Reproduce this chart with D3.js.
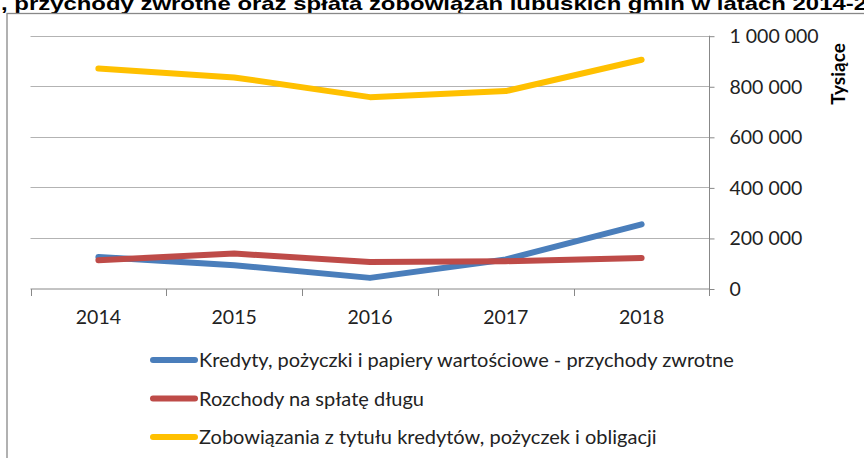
<html>
  <head>
    <meta charset="utf-8" />
    <script src="https://d3js.org/d3.v7.min.js"></script>
    <style>
      body { margin: 0; background: #fff; }
      text { font-family: Lato, "Open Sans", sans-serif; fill: #222; }
    </style>
  </head>
  <body>
    <div id="chart"></div>
    <script>
      // values, in thousands (Tysiące)
      var years = ["2014", "2015", "2016", "2017", "2018"];
      var kredyty = [125000, 92000, 42000, 115000, 254000];
      var rozchody = [112000, 138000, 105000, 108000, 121000];
      var zobowiazania = [870000, 835000, 757000, 781000, 905000];
      var yTicks = [0, 200000, 400000, 600000, 800000, 1000000];

      var seriesNames = [
        "Kredyty, pożyczki i papiery wartościowe - przychody zwrotne",
        "Rozchody na spłatę długu",
        "Zobowiązania z tytułu kredytów, pożyczek i obligacji"
      ];
      var seriesColors = ["#4a7ebb", "#be4b48", "#ffc000"];
      var seriesValues = [kredyty, rozchody, zobowiazania];

      var width = 864;
      var height = 458;

      var svg = d3
        .select("#chart")
        .append("svg")
        .attr("width", width)
        .attr("height", height);

      // title, cut off at the top like the source
      var title = svg
        .append("text")
        .attr("x", 1)
        .attr("y", 10)
        .style("font-family", "'Liberation Sans', Arial, sans-serif")
        .style("font-weight", "bold")
        .style("font-size", "19px")
        .style("fill", "#000");
      title
        .append("tspan")
        .attr("textLength", 866)
        .attr("lengthAdjust", "spacingAndGlyphs")
        .text(", przychody zwrotne oraz spłata zobowiązań lubuskich gmin w latach 2014-2");
      title.append("tspan").text("018");

      // chart frame
      svg
        .append("rect")
        .attr("x", 7)
        .attr("y", 13.5)
        .attr("width", 900)
        .attr("height", 500)
        .attr("fill", "none")
        .attr("stroke", "#888")
        .attr("stroke-width", 1.3);

      var x = d3.scaleBand().domain(years).range([30.5, 709.5]);
      var y = d3.scaleLinear().domain([0, 1000000]).range([288.5, 35.7]);

      // gridlines
      svg
        .append("g")
        .selectAll("line")
        .data(yTicks.filter(function (d) { return d > 0; }))
        .enter()
        .append("line")
        .attr("x1", 30.5)
        .attr("x2", 709.5)
        .attr("y1", function (d) { return Math.round(y(d)) + 0.5; })
        .attr("y2", function (d) { return Math.round(y(d)) + 0.5; })
        .attr("stroke", "#b3b3b3")
        .attr("stroke-width", 1);

      // right value axis
      var yAxis = d3
        .axisRight(y)
        .tickValues(yTicks)
        .tickSize(5)
        .tickPadding(15)
        .tickFormat(function (d) {
          return d3.format(",")(d).replace(/,/g, " ");
        });
      var gy = svg.append("g").attr("transform", "translate(709.5,0.5)").call(yAxis);
      gy.select(".domain").remove();
      gy.selectAll(".tick line").attr("stroke", "#888");
      gy.selectAll(".tick text")
        .style("font-family", "Lato, sans-serif")
        .style("font-size", "19.5px")
        .attr("fill", "#222");
      svg
        .append("line")
        .attr("x1", 709.5)
        .attr("x2", 709.5)
        .attr("y1", y(1000000))
        .attr("y2", 296)
        .attr("stroke", "#888");

      // category axis
      svg
        .append("line")
        .attr("x1", 30.5)
        .attr("x2", 709.5)
        .attr("y1", 289)
        .attr("y2", 289)
        .attr("stroke", "#888");
      svg
        .append("g")
        .selectAll("line")
        .data(years)
        .enter()
        .append("line")
        .attr("x1", function (d) { return Math.round(x(d)) + 0.5; })
        .attr("x2", function (d) { return Math.round(x(d)) + 0.5; })
        .attr("y1", 289)
        .attr("y2", 296)
        .attr("stroke", "#888");
      svg
        .append("g")
        .selectAll("text")
        .data(years)
        .enter()
        .append("text")
        .attr("x", function (d) { return x(d) + x.bandwidth() / 2; })
        .attr("y", 323.5)
        .attr("text-anchor", "middle")
        .style("font-size", "19.5px")
        .text(function (d) { return d; });

      // unit label
      svg
        .append("text")
        .attr("transform", "translate(845,74) rotate(-90)")
        .attr("text-anchor", "middle")
        .style("font-size", "19px")
        .style("font-weight", "bold")
        .style("fill", "#000")
        .text("Tysiące");

      // lines
      var line = d3
        .line()
        .x(function (d, i) { return x(years[i]) + x.bandwidth() / 2; })
        .y(function (d) { return y(d); });

      svg
        .append("g")
        .selectAll("path")
        .data(seriesValues)
        .enter()
        .append("path")
        .attr("d", function (d) { return line(d); })
        .attr("fill", "none")
        .attr("stroke", function (d, i) { return seriesColors[i]; })
        .attr("stroke-width", 6)
        .attr("stroke-linecap", "round")
        .attr("stroke-linejoin", "round");

      // legend
      var legend = svg
        .append("g")
        .selectAll("g")
        .data(seriesNames)
        .enter()
        .append("g")
        .attr("transform", function (d, i) {
          return "translate(0," + (360 + i * 38.5) + ")";
        });
      legend
        .append("line")
        .attr("x1", 153)
        .attr("x2", 195)
        .attr("stroke", function (d, i) { return seriesColors[i]; })
        .attr("stroke-width", 6)
        .attr("stroke-linecap", "round");
      legend
        .append("text")
        .attr("x", 199)
        .attr("y", 7)
        .style("font-size", "20px")
        .text(function (d) { return d; });
    </script>
  </body>
</html>
